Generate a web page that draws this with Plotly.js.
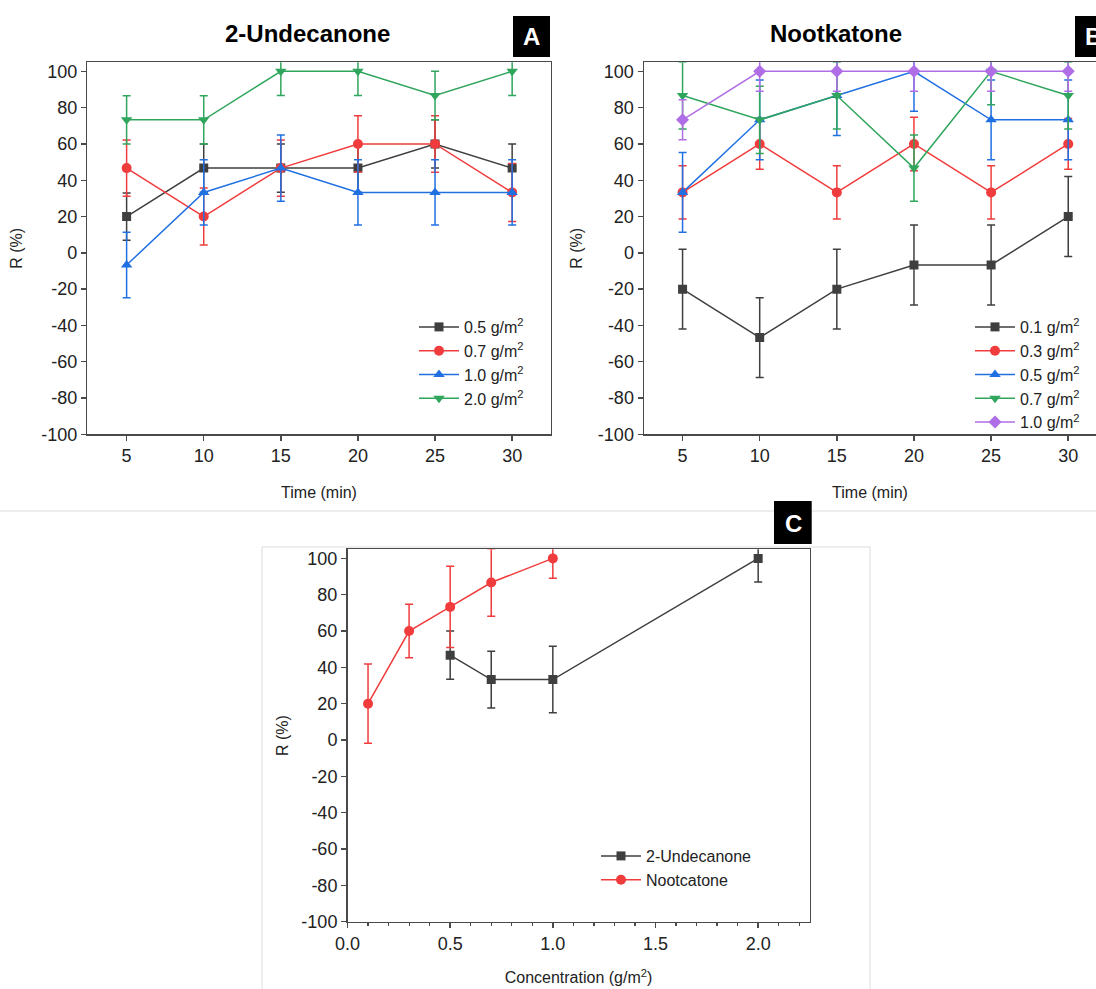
<!DOCTYPE html>
<html>
<head>
<meta charset="utf-8">
<script src="https://cdn.plot.ly/plotly-3.0.1.min.js"></script>
<style>html,body{margin:0;padding:0;background:#fff;}#chart{width:1096px;height:989px;}</style>
</head>
<body>
<div id="chart"></div>
<script>
// ---------- data ----------
const timeMin = [5, 10, 15, 20, 25, 30];

// Panel A: 2-Undecanone
const undecLabels = ['0.5 g/m<sup>2</sup>', '0.7 g/m<sup>2</sup>', '1.0 g/m<sup>2</sup>', '2.0 g/m<sup>2</sup>'];
const undec05 = [20, 46.7, 46.7, 46.7, 60, 46.7];
const undec05Err = [13, 13.3, 13.3, 13.3, 13.3, 13.3];
const undec07 = [46.7, 20, 46.7, 60, 60, 33.3];
const undec07Err = [15.5, 15.7, 15.5, 15.5, 15.6, 16];
const undec10 = [-6.7, 33.3, 46.7, 33.3, 33.3, 33.3];
const undec10Err = [18, 18, 18.3, 18, 18, 18];
const undec20 = [73.3, 73.3, 100, 100, 86.7, 100];
const undec20Err = [13.3, 13.3, 13.3, 13.3, 13.3, 13.3];

// Panel B: Nootkatone
const nootLabels = ['0.1 g/m<sup>2</sup>', '0.3 g/m<sup>2</sup>', '0.5 g/m<sup>2</sup>', '0.7 g/m<sup>2</sup>', '1.0 g/m<sup>2</sup>'];
const noot01 = [-20, -46.7, -20, -6.7, -6.7, 20];
const noot01Err = [22, 22, 22, 22, 22, 22];
const noot03 = [33.3, 60, 33.3, 60, 33.3, 60];
const noot03Err = [14.7, 14, 14.7, 14.7, 14.7, 14];
const noot05 = [33.3, 73.3, 86.7, 100, 73.3, 73.3];
const noot05Err = [22, 22, 22, 22, 22, 22];
const noot07 = [86.7, 73.3, 86.7, 46.7, 100, 86.7];
const noot07Err = [18.5, 18.5, 18.5, 18.3, 18.4, 18.5];
const noot10 = [73.3, 100, 100, 100, 100, 100];
const noot10Err = [11, 11, 11, 11, 11, 11];

// Panel C: R at 30 min vs concentration
const concUndec = [0.5, 0.7, 1.0, 2.0];
const rUndec = [46.7, 33.3, 33.3, 100];
const rUndecErr = [13.3, 15.6, 18.3, 13];
const concNoot = [0.1, 0.3, 0.5, 0.7, 1.0];
const rNoot = [20, 60, 73.3, 86.7, 100];
const rNootErr = [21.8, 14.7, 22.4, 18.6, 11];
const cLabels = ['2-Undecanone', 'Nootcatone'];

const rTicks = [-100, -80, -60, -40, -20, 0, 20, 40, 60, 80, 100];
const rTickText = ['-100', '-80', '-60', '-40', '-20', '0', '20', '40', '60', '80', '100'];
const timeTicks = [5, 10, 15, 20, 25, 30];
const concTicks = [0, 0.5, 1.0, 1.5, 2.0];
const concTickText = ['0.0', '0.5', '1.0', '1.5', '2.0'];

// ---------- styling ----------
const C = {black: '#3f3f3f', red: '#f03c3c', blue: '#2070e2', green: '#30a55c', purple: '#b06ee6'};
const FONT = 'Liberation Sans, Arial, sans-serif';
const W = 1096, H = 989;
const px = v => v / W;
const py = v => 1 - v / H;

function tr(x, y, err, name, color, symbol, xa, ya, legend, msize) {
  return {
    type: 'scatter', mode: 'lines+markers', x: x, y: y, name: name,
    xaxis: xa, yaxis: ya, legend: legend,
    line: {color: color, width: 1.5},
    marker: {color: color, symbol: symbol, size: msize || 10},
    error_y: {type: 'data', array: err, visible: true, color: color, thickness: 1.5, width: 4},
    cliponaxis: true
  };
}

const data = [
  tr(timeMin, undec05, undec05Err, undecLabels[0], C.black, 'square', 'x', 'y', 'legend', 9),
  tr(timeMin, undec07, undec07Err, undecLabels[1], C.red, 'circle', 'x', 'y', 'legend'),
  tr(timeMin, undec10, undec10Err, undecLabels[2], C.blue, 'triangle-up', 'x', 'y', 'legend'),
  tr(timeMin, undec20, undec20Err, undecLabels[3], C.green, 'triangle-down', 'x', 'y', 'legend'),

  tr(timeMin, noot01, noot01Err, nootLabels[0], C.black, 'square', 'x2', 'y2', 'legend2', 9),
  tr(timeMin, noot03, noot03Err, nootLabels[1], C.red, 'circle', 'x2', 'y2', 'legend2'),
  tr(timeMin, noot05, noot05Err, nootLabels[2], C.blue, 'triangle-up', 'x2', 'y2', 'legend2'),
  tr(timeMin, noot07, noot07Err, nootLabels[3], C.green, 'triangle-down', 'x2', 'y2', 'legend2'),
  tr(timeMin, noot10, noot10Err, nootLabels[4], C.purple, 'diamond', 'x2', 'y2', 'legend2'),

  tr(concUndec, rUndec, rUndecErr, cLabels[0], C.black, 'square', 'x3', 'y3', 'legend3', 9),
  tr(concNoot, rNoot, rNootErr, cLabels[1], C.red, 'circle', 'x3', 'y3', 'legend3')
];

const axisLine = {showline: true, linecolor: '#4a4a4a', linewidth: 1.5, ticks: 'outside', ticklen: 5, tickwidth: 1.5,
  tickcolor: '#4a4a4a', showgrid: false, zeroline: false, tickfont: {family: FONT, size: 18, color: '#222'}};

function yax(domain, mirror, standoff) {
  return Object.assign({}, axisLine, {
    domain: domain, range: [-100, 105], tickvals: rTicks, ticktext: rTickText, mirror: mirror,
    title: {text: 'R (%)', font: {family: FONT, size: 16, color: '#222'}, standoff: standoff}
  });
}
function xtime(domain, range, anchor) {
  return Object.assign({}, axisLine, {
    domain: domain, range: range, tickvals: timeTicks, mirror: true, anchor: anchor,
    title: {text: 'Time (min)', font: {family: FONT, size: 16, color: '#222'}, standoff: 21}
  });
}

const yTop = [py(434.3), py(62.3)];
const yC = [py(921.7), py(549.3)];

const layout = {
  width: W, height: H, autosize: false,
  margin: {l: 0, r: 0, t: 0, b: 0, pad: 0},
  paper_bgcolor: '#fff', plot_bgcolor: '#fff',
  showlegend: true,
  font: {family: FONT, color: '#222'},
  xaxis: xtime([px(87.3), px(550.7)], [2.45, 32.5], 'y'),
  yaxis: Object.assign(yax(yTop, true, 14), {anchor: 'x'}),
  xaxis2: xtime([px(644), 1], [2.5, 31.8], 'y2'),
  yaxis2: Object.assign(yax(yTop, false, 11), {anchor: 'x2'}),
  xaxis3: Object.assign({}, axisLine, {
    domain: [px(347.5), px(809.5)], range: [0, 2.25], tickvals: concTicks, ticktext: concTickText, mirror: true, anchor: 'y3',
    minor: {dtick: 0.1, ticks: 'outside', ticklen: 3, tickwidth: 1.2, tickcolor: '#4a4a4a', showgrid: false},
    title: {text: 'Concentration (g/m<sup>2</sup>)', font: {family: FONT, size: 16, color: '#222'}, standoff: 19}
  }),
  yaxis3: Object.assign(yax(yC, true, 9), {anchor: 'x3'}),
  legend: {x: px(414), y: py(310), xanchor: 'left', yanchor: 'top', bgcolor: 'rgba(0,0,0,0)',
    font: {family: FONT, size: 16, color: '#222'}, itemwidth: 40, tracegroupgap: 0},
  legend2: {x: px(970), y: py(310), xanchor: 'left', yanchor: 'top', bgcolor: 'rgba(0,0,0,0)',
    font: {family: FONT, size: 16, color: '#222'}, itemwidth: 40, tracegroupgap: 0},
  legend3: {x: px(596), y: py(839), xanchor: 'left', yanchor: 'top', bgcolor: 'rgba(0,0,0,0)',
    font: {family: FONT, size: 16, color: '#222'}, itemwidth: 40, tracegroupgap: 0},
  shapes: [
    {type: 'line', xref: 'paper', yref: 'paper', x0: 0, x1: 1, y0: py(511), y1: py(511), line: {color: '#dcdcdc', width: 1}},
    {type: 'rect', xref: 'paper', yref: 'paper', x0: px(262), x1: px(870), y0: -0.02, y1: py(547), line: {color: '#dcdcdc', width: 1}},
    {type: 'rect', xref: 'paper', yref: 'paper', x0: px(513), x1: px(550), y0: py(57), y1: py(16), fillcolor: '#000', line: {width: 0}},
    {type: 'rect', xref: 'paper', yref: 'paper', x0: px(1075), x1: px(1112), y0: py(57), y1: py(16), fillcolor: '#000', line: {width: 0}},
    {type: 'rect', xref: 'paper', yref: 'paper', x0: px(774), x1: px(811.7), y0: py(544), y1: py(501), fillcolor: '#000', line: {width: 0}}
  ],
  annotations: [
    {xref: 'paper', yref: 'paper', x: px(307), y: py(33), text: '<b>2-Undecanone</b>', showarrow: false,
      font: {family: FONT, size: 24, color: '#000'}, xanchor: 'center', yanchor: 'middle'},
    {xref: 'paper', yref: 'paper', x: px(836), y: py(33), text: '<b>Nootkatone</b>', showarrow: false,
      font: {family: FONT, size: 24, color: '#000'}, xanchor: 'center', yanchor: 'middle'},
    {xref: 'paper', yref: 'paper', x: px(531.5), y: py(37), text: '<b>A</b>', showarrow: false,
      font: {family: FONT, size: 24, color: '#fff'}, xanchor: 'center', yanchor: 'middle'},
    {xref: 'paper', yref: 'paper', x: px(1093.5), y: py(37), text: '<b>B</b>', showarrow: false,
      font: {family: FONT, size: 24, color: '#fff'}, xanchor: 'center', yanchor: 'middle'},
    {xref: 'paper', yref: 'paper', x: px(793), y: py(523), text: '<b>C</b>', showarrow: false,
      font: {family: FONT, size: 24, color: '#fff'}, xanchor: 'center', yanchor: 'middle'}
  ]
};

Plotly.newPlot('chart', data, layout, {displayModeBar: false, staticPlot: true});
</script>
</body>
</html>
